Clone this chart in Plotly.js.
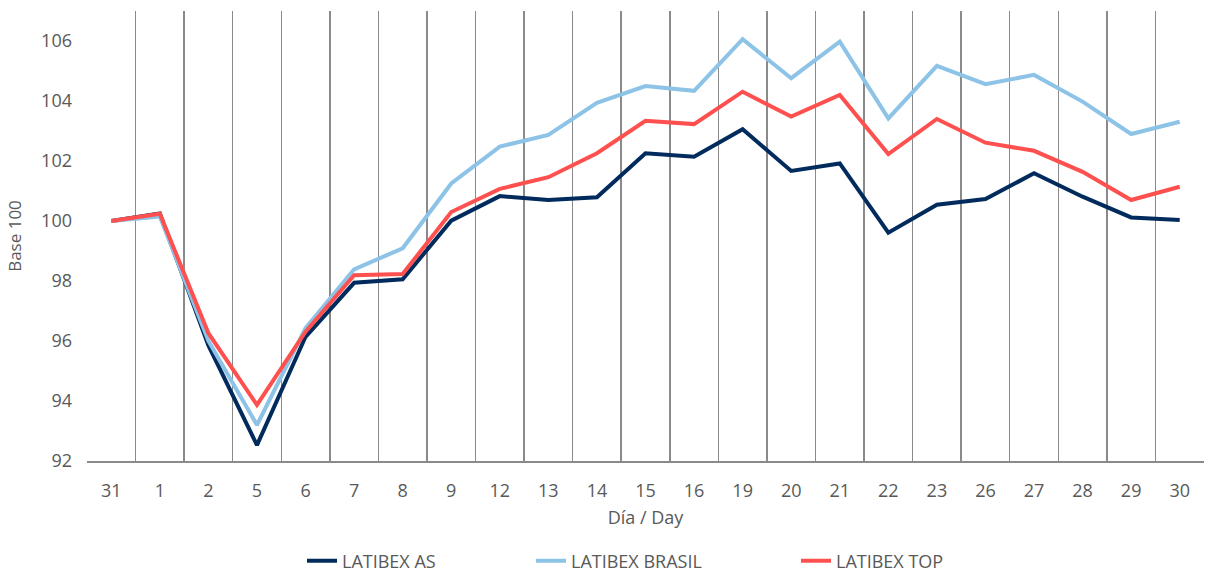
<!DOCTYPE html>
<html>
<head>
<meta charset="utf-8">
<script src="https://cdn.plot.ly/plotly-3.0.1.min.js"></script>
<style>html,body{margin:0;padding:0;background:#fff;}#chart{width:1205px;height:574px;}</style>
</head>
<body>
<div id="chart"></div>
<script>
const days = ["31","1","2","5","6","7","8","9","12","13","14","15","16","19","20","21","22","23","26","27","28","29","30"];
const latibexAS = [100.0,100.25,95.85,92.53,96.14,97.94,98.06,100.01,100.83,100.7,100.79,102.26,102.14,103.06,101.67,101.92,99.61,100.54,100.73,101.59,100.81,100.12,100.03];
const latibexBrasil = [100.0,100.15,96.0,93.2,96.43,98.39,99.09,101.25,102.48,102.87,103.94,104.5,104.34,106.06,104.76,105.98,103.42,105.17,104.56,104.87,103.98,102.9,103.31];
const latibexTop = [100.0,100.24,96.26,93.87,96.31,98.19,98.23,100.3,101.07,101.46,102.26,103.34,103.23,104.31,103.48,104.2,102.23,103.4,102.61,102.34,101.64,100.7,101.14];
const yTicks = [92,94,96,98,100,102,104,106];

const fontFam = "'Open Sans', 'Liberation Sans', sans-serif";
const txt = '#595959';
const mk = (y, name, color, lg) => ({
  x: days, y: y, name: name, type: 'scatter', mode: 'lines',
  line: {color: color, width: 4}, legend: lg
});
const data = [
  mk(latibexAS, 'LATIBEX AS', '#002b5c', 'legend'),
  mk(latibexBrasil, 'LATIBEX BRASIL', '#8cc3e7', 'legend2'),
  mk(latibexTop, 'LATIBEX TOP', '#ff5050', 'legend3')
];
const lg = (xpx) => ({
  orientation: 'h', xref: 'container', yref: 'container',
  x: xpx / 1205, xanchor: 'left', y: 13 / 574, yanchor: 'middle',
  font: {size: 18, color: txt}, bgcolor: 'rgba(0,0,0,0)'
});
const layout = {
  width: 1205, height: 574,
  margin: {l: 87, r: 1, t: 11, b: 113},
  paper_bgcolor: '#fff', plot_bgcolor: '#fff',
  font: {family: fontFam, color: txt, size: 18},
  showlegend: true,
  legend: lg(302),
  legend2: lg(531),
  legend3: lg(796),
  xaxis: {
    type: 'category', range: [-0.5, 22.5], tickson: 'boundaries',
    showgrid: true, gridcolor: '#8a8a8a', gridwidth: 1.5,
    showline: true, linecolor: '#8a8a8a', linewidth: 1.5,
    ticks: '', tickfont: {size: 18, color: txt}, ticklabelstandoff: 13,
    title: {text: 'Día / Day', font: {size: 18, color: txt}, standoff: 10},
    zeroline: false, fixedrange: true, automargin: false
  },
  yaxis: {
    range: [92, 107], tickvals: yTicks, ticktext: yTicks.map(String),
    showgrid: false, zeroline: false, showline: false, ticks: '',
    tickfont: {size: 18, color: txt}, ticklabelstandoff: 14,
    title: {text: 'Base 100', font: {size: 17, color: txt}, standoff: 15},
    fixedrange: true, automargin: false
  }
};
Plotly.newPlot('chart', data, layout, {displayModeBar: false, staticPlot: true});
</script>
</body>
</html>
